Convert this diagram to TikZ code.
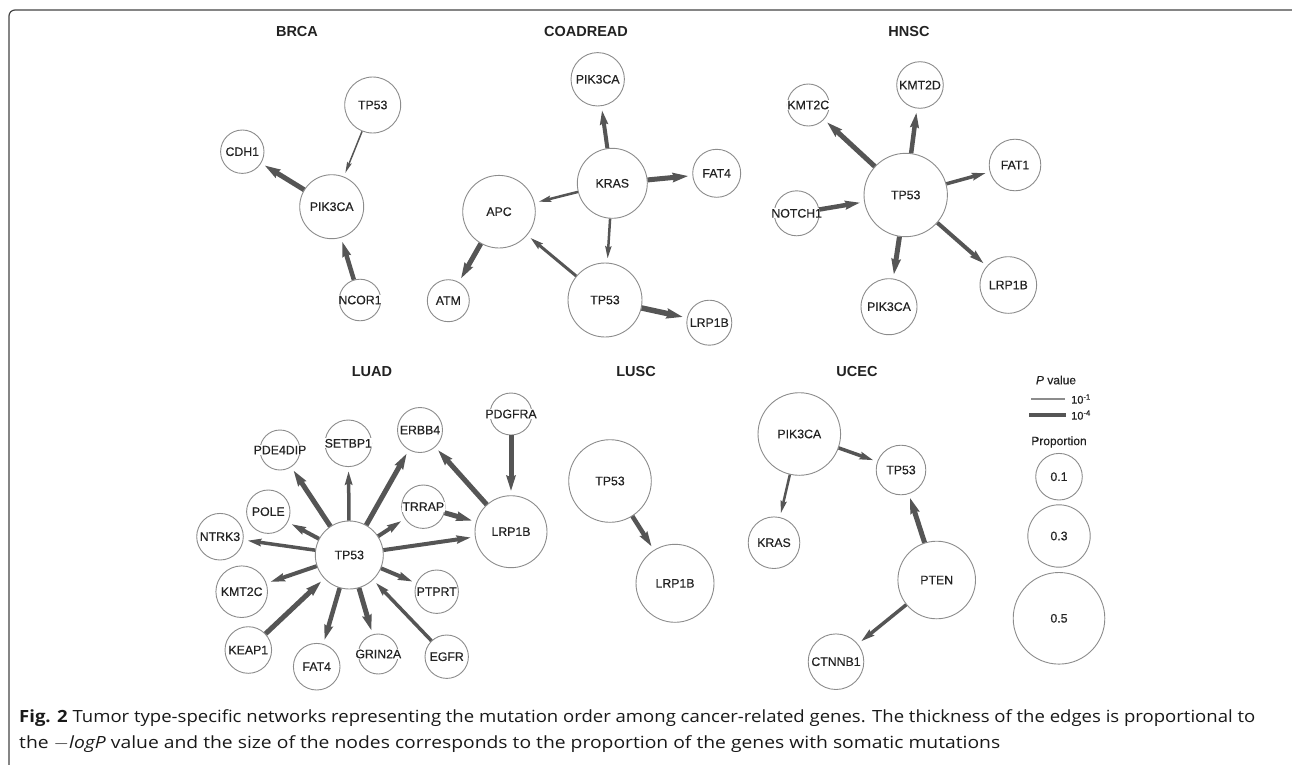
\documentclass[tikz,border=0pt]{standalone}
\usepackage{fontspec}
\setmainfont{Liberation Sans}
\newfontfamily\capfont{Open Sans}
\newfontfamily\labfont{Liberation Sans}[FakeBold=0.4]
\usetikzlibrary{arrows.meta}
\definecolor{edgec}{HTML}{555555}
\definecolor{circc}{HTML}{8C8C8C}
\definecolor{txtc}{HTML}{222222}
\definecolor{framec}{HTML}{444444}
\tikzset{
  gcirc/.style={circle, draw=circc, line width=0.9pt, fill=white, inner sep=0pt},
  glabel/.style={fill=white, inner sep=0.6pt, font=\labfont\fontsize{12.3}{12.3}\selectfont, text=txtc},
  ttl/.style={font=\fontsize{14.5}{14.5}\selectfont\bfseries, text=txtc},
  legtxt/.style={font=\labfont\fontsize{12}{12}\selectfont, text=txtc, inner sep=0pt},
  ed/.style={draw=edgec, line width=#1pt, -{Stealth[length=9pt 1.3, width=3pt 1.2, inset=1.5pt]}, shorten >=4pt},
}
\newcommand\genenode[4]{\node[gcirc, minimum size={2*#3pt}] (#1) at (#2) {};
  \node[glabel] (#1-t) at (#1.center) {#4};}
\begin{document}
\begin{tikzpicture}[x=1pt, y=-1pt]
\useasboundingbox (0,0) rectangle (1292,765);
% frame
\draw[framec, line width=1.2pt, rounded corners=6pt] (9,765) -- (9,10) -- (1292,10);

% titles
\node[ttl] (t-brca) at (297,32) {BRCA};
\node[ttl] (t-coad) at (586,32) {COADREAD};
\node[ttl] (t-hnsc) at (909,32) {HNSC};
\node[ttl] (t-luad) at (372,372) {LUAD};
\node[ttl] (t-lusc) at (636,372) {LUSC};
\node[ttl] (t-ucec) at (857,372) {UCEC};

% BRCA
\genenode{b-tp53}{372.7,105}{28}{TP53}
\genenode{b-cdh1}{242.3,151.7}{21.7}{CDH1}
\genenode{b-pik}{331.7,206.7}{32}{PIK3CA}
\genenode{b-ncor}{360,300}{20.8}{NCOR1}
\draw[ed=1.5] (b-tp53) -- (b-pik);
\draw[ed=5] (b-pik) -- (b-cdh1);
\draw[ed=4.5] (b-ncor) -- (b-pik);

% COADREAD
\genenode{c-pik}{597.7,79.3}{26.7}{PIK3CA}
\genenode{c-kras}{612.3,183.3}{35}{KRAS}
\genenode{c-fat4}{716.7,173.3}{24}{FAT4}
\genenode{c-apc}{499,211.7}{36.3}{APC}
\genenode{c-atm}{448.3,300.7}{21}{ATM}
\genenode{c-tp53}{605,300}{37}{TP53}
\genenode{c-lrp}{709.3,322.7}{22.5}{LRP1B}
\draw[ed=4] (c-kras) -- (c-pik);
\draw[ed=5] (c-kras) -- (c-fat4);
\draw[ed=2.5] (c-kras) -- (c-apc);
\draw[ed=2.5] (c-kras) -- (c-tp53);
\draw[ed=3] (c-tp53) -- (c-apc);
\draw[ed=5] (c-apc) -- (c-atm);
\draw[ed=5.5] (c-tp53) -- (c-lrp);

% HNSC
\genenode{h-kmt2c}{808.3,105}{21}{KMT2C}
\genenode{h-kmt2d}{920,85}{23.3}{KMT2D}
\genenode{h-fat1}{1015,165}{25.8}{FAT1}
\genenode{h-tp53}{905.7,195}{41.7}{TP53}
\genenode{h-notch}{796.7,213.3}{22.5}{NOTCH1}
\genenode{h-pik}{889,306.7}{28}{PIK3CA}
\genenode{h-lrp}{1008.3,285}{28.3}{LRP1B}
\draw[ed=5] (h-tp53) -- (h-kmt2c);
\draw[ed=4.5] (h-tp53) -- (h-kmt2d);
\draw[ed=3.5] (h-tp53) -- (h-fat1);
\draw[ed=4.5] (h-notch) -- (h-tp53);
\draw[ed=5] (h-tp53) -- (h-pik);
\draw[ed=4] (h-tp53) -- (h-lrp);

% LUAD
\genenode{l-pde}{280,450}{20}{PDE4DIP}
\genenode{l-setbp}{348.3,443.3}{23.3}{SETBP1}
\genenode{l-erbb4}{420,430}{22.5}{ERBB4}
\genenode{l-pdgfra}{511,414}{21}{PDGFRA}
\genenode{l-pole}{268.3,511.7}{21.7}{POLE}
\genenode{l-trrap}{423.3,506.7}{21.7}{TRRAP}
\genenode{l-ntrk3}{220,536.7}{23.3}{NTRK3}
\genenode{l-tp53}{349.3,555}{34}{TP53}
\genenode{l-lrp}{511,531.7}{36}{LRP1B}
\genenode{l-kmt2c}{241.7,591.7}{25.8}{KMT2C}
\genenode{l-ptprt}{436.7,591.7}{21.7}{PTPRT}
\genenode{l-keap}{248.3,650}{23.3}{KEAP1}
\genenode{l-fat4}{316.7,666.7}{23.3}{FAT4}
\genenode{l-grin}{378.3,654}{20}{GRIN2A}
\genenode{l-egfr}{446.7,656.7}{21.7}{EGFR}
\draw[ed=5] (l-tp53) -- (l-pde);
\draw[ed=3.5] (l-tp53) -- (l-setbp);
\draw[ed=5] (l-tp53) -- (l-erbb4);
\draw[ed=4] (l-tp53) -- (l-trrap);
\draw[ed=5] (l-trrap) -- (l-lrp);
\draw[ed=4] (l-tp53) -- (l-lrp);
\draw[ed=5] (l-lrp) -- (l-erbb4);
\draw[ed=5] (l-pdgfra) -- (l-lrp);
\draw[ed=4] (l-tp53) -- (l-pole);
\draw[ed=3.5] (l-tp53) -- (l-ntrk3);
\draw[ed=4] (l-tp53) -- (l-kmt2c);
\draw[ed=5] (l-keap) -- (l-tp53);
\draw[ed=4.5] (l-tp53) -- (l-fat4);
\draw[ed=5] (l-tp53) -- (l-grin);
\draw[ed=3.5] (l-egfr) -- (l-tp53);
\draw[ed=4] (l-tp53) -- (l-ptprt);

% LUSC
\genenode{s-tp53}{610,481}{41.3}{TP53}
\genenode{s-lrp}{675,583.3}{39}{LRP1B}
\draw[ed=4.5] (s-tp53) -- (s-lrp);

% UCEC
\genenode{u-pik}{799.3,434}{41.3}{PIK3CA}
\genenode{u-tp53}{901,470}{24.8}{TP53}
\genenode{u-kras}{774,542.7}{25.8}{KRAS}
\genenode{u-pten}{936.7,580}{38.8}{PTEN}
\genenode{u-ctnnb1}{836,661.7}{27.8}{CTNNB1}
\draw[ed=3.5] (u-pik) -- (u-tp53);
\draw[ed=2.5] (u-pik) -- (u-kras);
\draw[ed=5] (u-pten) -- (u-tp53);
\draw[ed=3.5] (u-pten) -- (u-ctnnb1);

% legend
\node[legtxt] (lg-p) at (1056,380) {\textit{P} value};
\coordinate (lg-a1) at (1031,399);
\coordinate (lg-a2) at (1065,399);
\coordinate (lg-b1) at (1029,415);
\coordinate (lg-b2) at (1066,415);
\draw[circc, line width=1.3pt] (lg-a1) -- (lg-a2);
\draw[edgec, line width=4.7pt] (lg-b1) -- (lg-b2);
\node[legtxt, anchor=west, font=\labfont\fontsize{11}{11}\selectfont] (lg-t1) at (1071,399) {10\textsuperscript{-1}};
\node[legtxt, anchor=west, font=\labfont\fontsize{11}{11}\selectfont] (lg-t4) at (1071,415) {10\textsuperscript{-4}};
\node[legtxt] (lg-prop) at (1059,442) {Proportion};
\genenode{lg-c1}{1059,476.7}{23.3}{0.1}
\genenode{lg-c3}{1059,536}{31.2}{0.3}
\genenode{lg-c5}{1059,618.3}{45.8}{0.5}

% caption
\node[anchor=base west, inner sep=0pt, text=black!90] (cap1) at (19,722)
  {\capfont\fontsize{16.8}{16.8}\selectfont\resizebox{1236pt}{\height}{\textbf{Fig. 2} Tumor type-specific networks representing the mutation order among cancer-related genes. The thickness of the edges is proportional to}};
\node[anchor=base west, inner sep=0pt, text=black!90] (cap2) at (19,748)
  {\capfont\fontsize{16.8}{16.8}\selectfont\resizebox{981pt}{\height}{the $-$\textit{logP} value and the size of the nodes corresponds to the proportion of the genes with somatic mutations}};
\end{tikzpicture}
\end{document}
